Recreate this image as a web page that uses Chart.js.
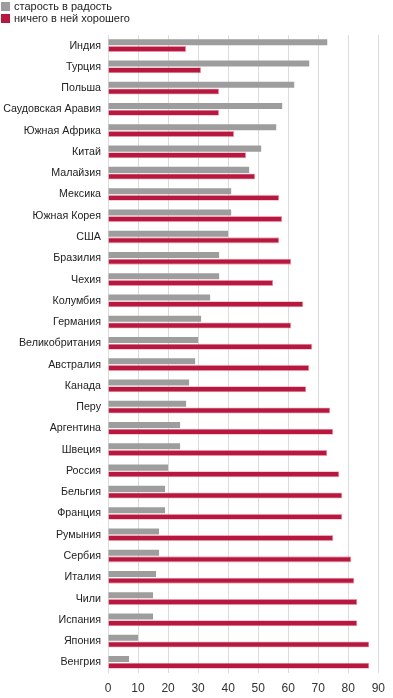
<!DOCTYPE html>
<html>
<head>
<meta charset="utf-8">
<script src="https://cdn.jsdelivr.net/npm/chart.js@4"></script>
<style>
  html, body { margin: 0; padding: 0; background: #fff; }
  body { width: 393px; height: 698px; position: relative; overflow: hidden; font-family: "Liberation Sans", Arial, sans-serif; }
  #legend { position: absolute; left: 1px; top: 0; font-size: 11px; color: #222; }
  #legend div { height: 12px; line-height: 12px; display: flex; align-items: center; }
  #legend span { display: inline-block; width: 9px; height: 9px; margin-right: 4px; }
  #wrap { position: absolute; left: 0; top: 0; width: 393px; height: 698px; }
</style>
</head>
<body>
<div id="wrap"><canvas id="chart"></canvas></div>
<div id="legend"></div>
<script>
const countries = ["Индия", "Турция", "Польша", "Саудовская Аравия", "Южная Африка", "Китай",
  "Малайзия", "Мексика", "Южная Корея", "США", "Бразилия", "Чехия", "Колумбия", "Германия",
  "Великобритания", "Австралия", "Канада", "Перу", "Аргентина", "Швеция", "Россия", "Бельгия",
  "Франция", "Румыния", "Сербия", "Италия", "Чили", "Испания", "Япония", "Венгрия"];
const joyful = [73, 67, 62, 58, 56, 51, 47, 41, 41, 40, 37, 37, 34, 31, 30, 29, 27, 26, 24, 24,
  20, 19, 19, 17, 17, 16, 15, 15, 10, 7];
const nothingGood = [26, 31, 37, 37, 42, 46, 49, 57, 58, 57, 61, 55, 65, 61, 68, 67, 66, 74, 75, 73,
  77, 78, 78, 75, 81, 82, 83, 83, 87, 87];
const xTicks = [0, 10, 20, 30, 40, 50, 60, 70, 80, 90];
const seriesNames = ["старость в радость", "ничего в ней хорошего"];
const colors = ["#9d9d9d", "#b8173f"];

// legend in html, stacked like the original
const legend = document.getElementById("legend");
seriesNames.forEach((name, i) => {
  const row = document.createElement("div");
  const box = document.createElement("span");
  box.style.background = colors[i];
  row.appendChild(box);
  row.appendChild(document.createTextNode(name));
  legend.appendChild(row);
});

const ctx = document.getElementById("chart").getContext("2d");
new Chart(ctx, {
  type: 'bar',
  data: {
    labels: countries,
    datasets: [
      { label: seriesNames[0], data: joyful, backgroundColor: colors[0],
        categoryPercentage: 0.63, barPercentage: 0.9 },
      { label: seriesNames[1], data: nothingGood, backgroundColor: colors[1],
        borderColor: 'rgba(235,130,150,0.7)', borderWidth: 0.8,
        categoryPercentage: 0.63, barPercentage: 0.9 }
    ]
  },
  options: {
    indexAxis: 'y',
    responsive: true,
    maintainAspectRatio: false,
    animation: false,
    layout: { padding: { top: 35, right: 11, left: 0, bottom: 0 } },
    plugins: { legend: { display: false }, tooltip: { enabled: false } },
    scales: {
      x: {
        min: 0, max: 90,
        afterBuildTicks: axis => { axis.ticks = xTicks.map(v => ({ value: v })); },
        afterFit: axis => { axis.height = 25; },
        grid: { color: '#dcdcdc', lineWidth: 1, drawTicks: false },
        border: { display: false },
        ticks: { padding: 8, color: '#333', font: { family: 'Liberation Sans', size: 12 } }
      },
      y: {
        afterFit: axis => { axis.width = 108; },
        grid: { display: false, drawTicks: false },
        border: { display: false },
        ticks: { padding: 7, color: '#222', font: { family: 'Liberation Sans', size: 10.7 }, autoSkip: false }
      }
    }
  }
});
</script>
</body>
</html>
